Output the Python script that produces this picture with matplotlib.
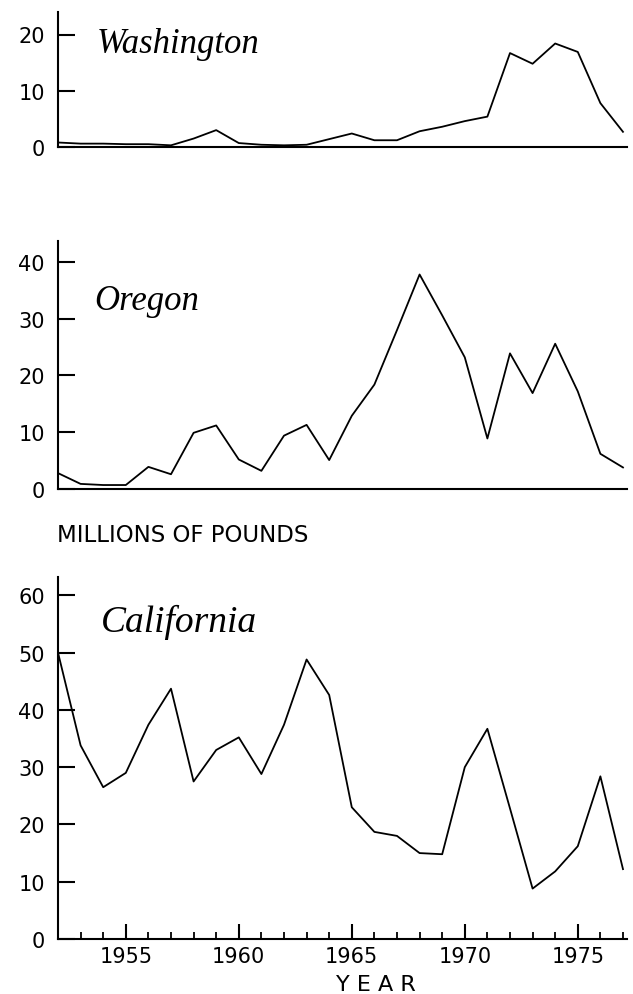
import matplotlib
matplotlib.use("Agg")
import matplotlib.pyplot as plt
import numpy as np

# annual landings, millions of pounds, 1952-1977
years = np.arange(1952, 1978)
washington = [0.8, 0.6, 0.6, 0.5, 0.5, 0.3, 1.5, 3.0, 0.7, 0.4, 0.3, 0.4, 1.4,
              2.4, 1.2, 1.2, 2.8, 3.6, 4.6, 5.4, 16.7, 14.8, 18.4, 16.9, 7.8, 2.7]
oregon = [2.8, 0.9, 0.7, 0.7, 3.9, 2.6, 9.9, 11.2, 5.2, 3.2, 9.4, 11.3, 5.1,
          12.9, 18.4, 28.0, 37.8, 30.6, 23.2, 8.9, 23.9, 16.9, 25.6, 17.2, 6.2, 3.8]
california = [50.0, 33.8, 26.5, 29.0, 37.4, 43.7, 27.5, 33.0, 35.2, 28.8, 37.4, 48.8, 42.6,
              23.0, 18.7, 18.0, 15.0, 14.8, 30.0, 36.7, 22.8, 8.8, 11.8, 16.2, 28.4, 12.2]

states = ["Washington", "Oregon", "California"]
series = [washington, oregon, california]
yticks = [[0, 10, 20], [0, 10, 20, 30, 40], [0, 10, 20, 30, 40, 50, 60]]
ytops = [24, 43.7, 63.2]
year_ticks = [1955, 1960, 1965, 1970, 1975]

W, H = 633, 995
fig = plt.figure(figsize=(W / 100, H / 100), dpi=100)

left = 58 / W
width = (627.5 - 58) / W
# (bottom, top) in pixels from the top of the figure
boxes = [(148, 13), (490, 242), (940, 578)]
name_pos = [(1953.7, 16.8, 25), (1953.6, 31.7, 25), (1953.9, 53.7, 27)]

tick_font = dict(family="DejaVu Sans", size=15)

axes = []
for i, (name, vals) in enumerate(zip(states, series)):
    b, t = boxes[i]
    ax = fig.add_axes([left, 1 - b / H, width, (b - t) / H])
    ax.plot(years, vals, color="black", lw=1.3)
    ax.set_xlim(1952, 1977.2)
    ax.set_ylim(0, ytops[i])
    for s in ("top", "right"):
        ax.spines[s].set_visible(False)
    for s in ("left", "bottom"):
        ax.spines[s].set_linewidth(1.5)
    ax.set_yticks(yticks[i])
    ax.set_yticklabels([str(v) for v in yticks[i]], **tick_font)
    ax.tick_params(axis="y", direction="in", length=12, width=1.5, pad=9.5)
    x, y, fs = name_pos[i]
    ax.text(x, y, name, family="Liberation Serif", style="italic",
            fontsize=fs, va="baseline", ha="left")
    if i < 2:
        ax.set_xticks([])
    axes.append(ax)

ax = axes[-1]
ax.set_xticks(year_ticks)
ax.set_xticklabels([str(v) for v in year_ticks], **tick_font)
ax.set_xticks(np.arange(1953, 1978), minor=True)
ax.tick_params(axis="x", which="major", direction="in", length=11, width=1.5, pad=5)
ax.tick_params(axis="x", which="minor", direction="in", length=5, width=1.3)

fig.text(57 / W, 1 - 535 / H, "MILLIONS OF POUNDS", fontsize=16.5,
         family="DejaVu Sans", ha="left", va="center")
fig.text(376 / W, 1 - 985 / H, "Y E A R", fontsize=16,
         family="DejaVu Sans", ha="center", va="center")

fig.savefig("out.png", dpi=100, facecolor="white")
